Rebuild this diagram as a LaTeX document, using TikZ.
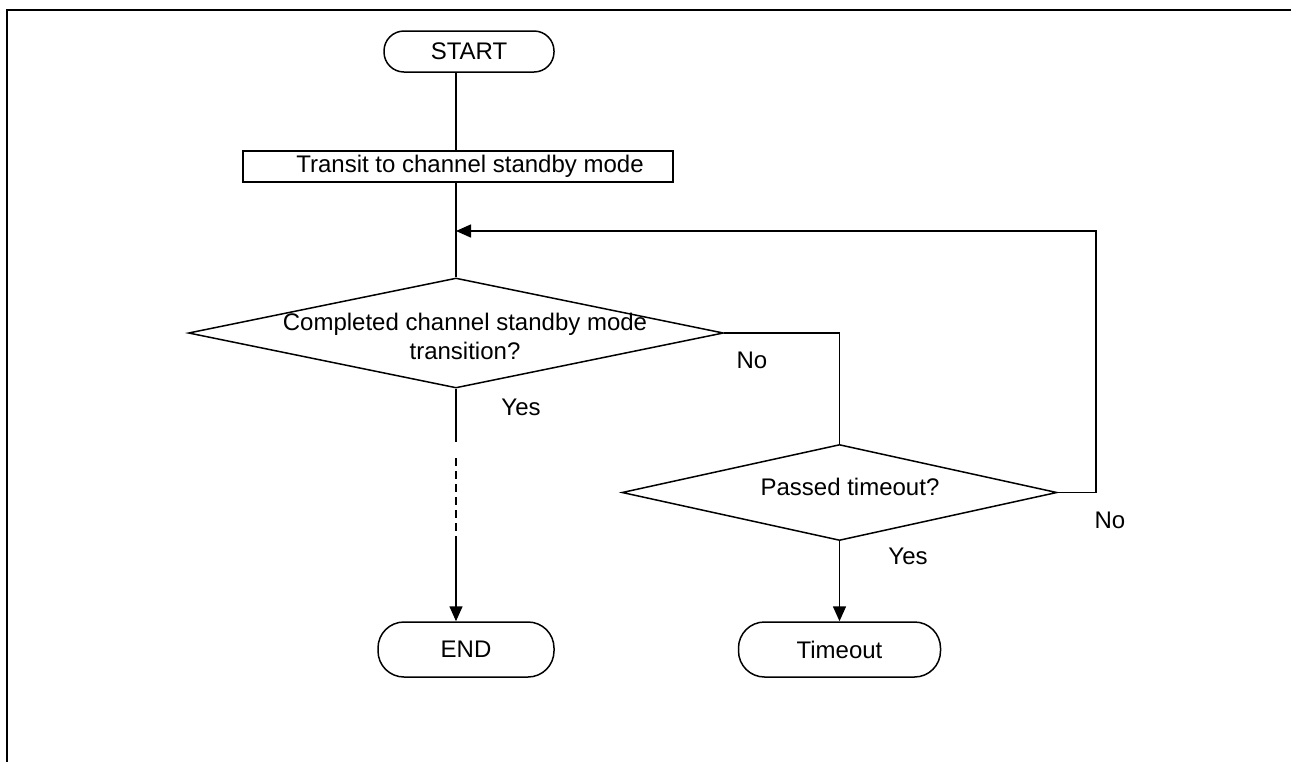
\documentclass[tikz,border=0pt]{standalone}
\usepackage{fontspec}
\setmainfont{Liberation Sans}
\usetikzlibrary{shapes}
\usetikzlibrary{arrows.meta}
\tikzset{
  terminal/.style={draw,rectangle,inner sep=0pt},
  procbox/.style={draw,rectangle,inner sep=0pt},
  decision/.style={draw,diamond,inner sep=0pt},
  flow/.style={-{Triangle[length=7.5pt,width=6.5pt]}}
}

\begin{document}
\begin{tikzpicture}[x=0.5pt,y=-0.5pt,line width=0.75pt]
        \fontsize{12}{14.5}\selectfont
        \useasboundingbox (0,0) rectangle (1291,762);
        % Page frame
        \draw[line width=1pt] (7,762) -- (7,10) -- (1291,10);
        % Boxes
        \node[terminal,minimum width=85pt,minimum height=20.5pt,rounded corners=10pt] (start) at (469,51.5) {START};
        \node[procbox,minimum width=215pt,minimum height=15.5pt] (trans) at (458,166.5) {\hspace*{12pt}Transit to channel standby mode};
        \node[decision,minimum width=267.5pt,minimum height=55pt] (done) at (456,333) {};
        \node[align=center] (donetxt) at (465,336) {Completed channel standby mode\\transition?};
        \node[decision,minimum width=217.5pt,minimum height=48pt] (tmo) at (839.5,492.5) {};
        \node (tmotxt) at (850,487) {Passed timeout?};
        \node[terminal,minimum width=88pt,minimum height=27.5pt,rounded corners=13pt] (finish) at (466,649.5) {END};
        \node[terminal,minimum width=101pt,minimum height=27.5pt,rounded corners=13pt] (tout) at (839.5,649.5) {Timeout};
        % Main line
        \draw (start.south -| done.north) -- (trans.north -| done.north);
        \draw (trans.south -| done.north) -- (done.north);
        % Retry loop
        \coordinate (merge) at (456,231);
        \coordinate (back) at (1096,231);
        \draw (done.east) -| (tmo.north);
        \draw[flow] (tmo.east) -| (back) -- (merge);
        \draw[flow] (tmo.south) -- (tout.north);
        % Yes branch, partly dashed
        \coordinate (gapa) at (456,442);
        \coordinate (gapb) at (456,458);
        \coordinate (gapc) at (456,537);
        \draw (done.south) -- (gapa);
        \draw[dash pattern=on 4pt off 2.5pt] (gapb) -- (gapc);
        \draw[flow] (gapc) -- (done.south |- finish.north);
        % Branch labels
        \node (yesa) at (521,407) {Yes};
        \node (noa) at (752,360) {No};
        \node (nob) at (1110,520) {No};
        \node (yesb) at (908,556) {Yes};
      \end{tikzpicture}
\end{document}
